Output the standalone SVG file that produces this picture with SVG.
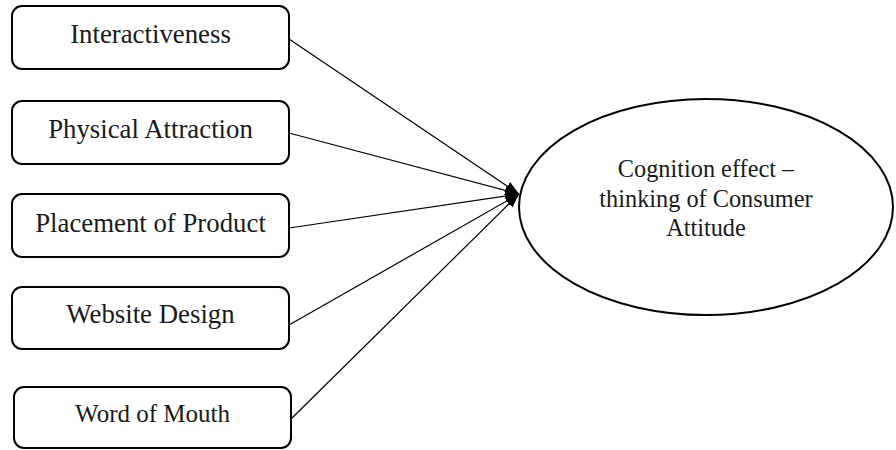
<svg xmlns="http://www.w3.org/2000/svg" width="896" height="450" viewBox="0 0 896 450">
<style>
.box{fill:#fff;stroke:#000;stroke-width:2}
.lbl{font-family:"Liberation Serif","Times New Roman",serif;fill:#1a1a1a;text-anchor:middle}
.conn{stroke:#000;stroke-width:1.2;fill:none}
</style>
<defs>
<marker id="arr" viewBox="0 0 14 10" refX="14" refY="5" markerWidth="14" markerHeight="10" markerUnits="userSpaceOnUse" orient="auto">
<path d="M0,0 L14,5 L0,10 z" fill="#000"/>
</marker>
</defs>
<rect width="896" height="450" fill="#fff"/>
<g id="connectors">
<line class="conn" x1="289" y1="39" x2="519" y2="194" marker-end="url(#arr)"/>
<line class="conn" x1="289" y1="133" x2="519" y2="194" marker-end="url(#arr)"/>
<line class="conn" x1="289" y1="228" x2="519" y2="194" marker-end="url(#arr)"/>
<line class="conn" x1="289" y1="325" x2="519" y2="194" marker-end="url(#arr)"/>
<line class="conn" x1="290" y1="420" x2="519" y2="194" marker-end="url(#arr)"/>
</g>
<g id="n1"><rect class="box" x="12" y="6" width="277" height="63" rx="10"/><text class="lbl" x="150.5" y="43" font-size="26.8">Interactiveness</text></g>
<g id="n2"><rect class="box" x="12" y="101" width="277" height="63" rx="10"/><text class="lbl" x="150.5" y="138" font-size="26.8">Physical Attraction</text></g>
<g id="n3"><rect class="box" x="12" y="194" width="277" height="63" rx="10"/><text class="lbl" x="150.5" y="232" font-size="26.8">Placement of Product</text></g>
<g id="n4"><rect class="box" x="12" y="287" width="277" height="62" rx="10"/><text class="lbl" x="150.5" y="323" font-size="26.8">Website Design</text></g>
<g id="n5"><rect class="box" x="14" y="387" width="277" height="61" rx="10"/><text class="lbl" x="152.5" y="422" font-size="25">Word of Mouth</text></g>
<g id="target">
<ellipse class="box" cx="706" cy="207" rx="187" ry="108"/>
<text class="lbl" x="706" y="177" font-size="24.3">Cognition effect –</text>
<text class="lbl" x="706" y="207" font-size="24.3">thinking of Consumer</text>
<text class="lbl" x="706" y="236" font-size="24.3">Attitude</text>
</g>
</svg>
